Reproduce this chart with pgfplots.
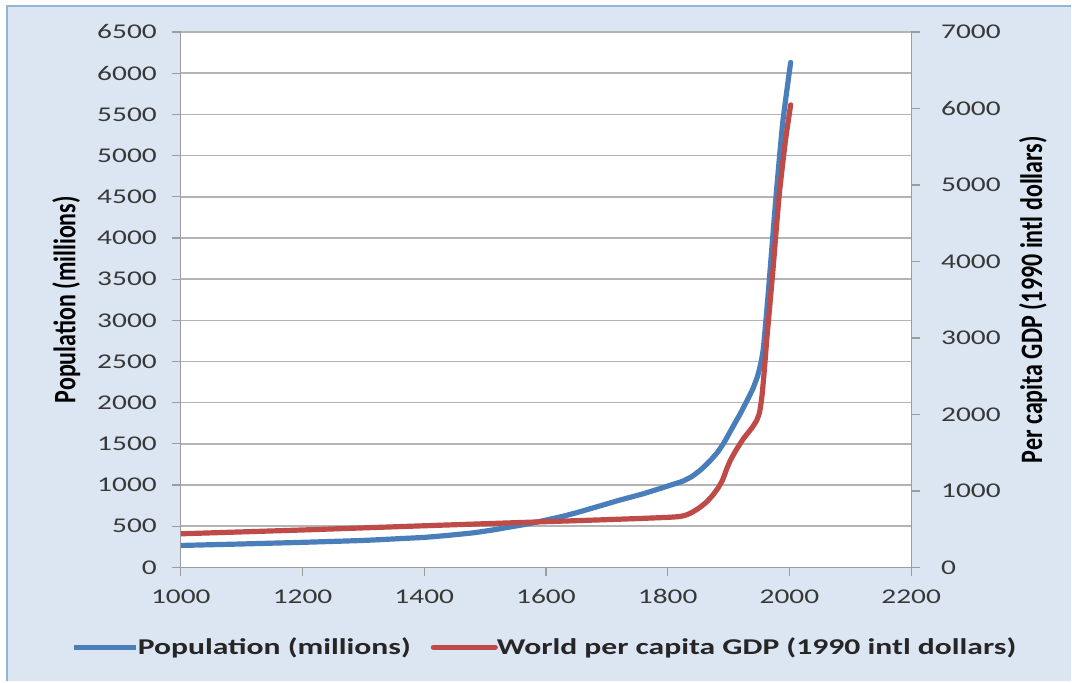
\documentclass[border=0pt]{standalone}
\usepackage{fontspec}
\setmainfont{Carlito}
\newfontfamily\wide{Carlito}[FakeStretch=1.4]
\usepackage{pgfplots}
\pgfplotsset{compat=1.18}
\definecolor{bgblue}{HTML}{DCE6F2}
\definecolor{edgeblue}{HTML}{95B3D7}
\definecolor{popblue}{HTML}{4A7EBB}
\definecolor{gdpred}{HTML}{BE4B48}
\definecolor{axisgray}{HTML}{9C9C9C}
\definecolor{gridgray}{HTML}{B4B4B4}

\pgfplotstableread{
year pop
1000 267
1100 285
1200 305
1300 328
1360 350
1400 365
1440 390
1480 420
1510 452
1540 490
1570 528
1600 575
1630 625
1655 675
1690 750
1720 815
1760 895
1786 955
1805 1000
1824 1045
1840 1105
1855 1190
1869 1290
1882 1400
1893 1520
1905 1680
1918 1850
1930 2020
1940 2170
1948 2330
1953 2480
1957 2650
1962 3050
1967 3493
1978 4507
1989 5400
2002 6130
}\popdata

\pgfplotstableread{
year gdp
1000 440
1200 490
1400 545
1590 596
1700 625
1760 642
1800 655
1819 665
1830 685
1840 720
1852 780
1863 850
1873 935
1882 1030
1890 1140
1897 1290
1903 1400
1912 1530
1925 1690
1938 1820
1946 1920
1951 2030
1955 2250
1959 2600
1963 3000
1972 3800
1983 4850
1993 5550
2002 6047
}\gdpdata

\pgfplotsset{
  common/.style={
    at={(90.5pt,57pt)}, anchor=south west,
    scale only axis, width=365.5pt, height=268pt,
    xmin=1000, xmax=2200,
    axis line style={axisgray, line width=0.6pt},
    tick style={axisgray, line width=0.6pt},
    tick align=outside, major tick length=4.5pt,
    ticklabel style={font=\wide\fontsize{10.5}{12}\selectfont, text=black!78},
    /pgf/number format/assume math mode=true,
    /pgf/number format/1000 sep={},
  },
}

\begin{document}
\begin{tikzpicture}
\fill[white] (0,0) rectangle (536pt,341pt);
\fill[bgblue] (3.5pt,0) rectangle (536pt,338pt);
\draw[edgeblue, line width=1pt] (3.5pt,0) -- (3.5pt,338pt) -- (536pt,338pt);

\begin{axis}[
  common,
  ymin=0, ymax=6500,
  xtick={1000,1200,...,2200},
  ytick={0,500,...,6500},
  axis background/.style={fill=white},
  axis x line*=bottom, axis y line*=left,
  xticklabel style={yshift=-3pt},
  yticklabel style={xshift=-4pt},
  ymajorgrids, major grid style={gridgray, line width=0.8pt},
  every axis y label/.style={at={(axis description cs:-0.157,0.5)}, rotate=90, anchor=center},
  ylabel={\bfseries\fontsize{12}{14}\selectfont\scalebox{1}[1.3]{Population (millions)}},
]
\addplot[popblue, line width=2.6pt, line cap=round, line join=round, smooth, tension=0.3] table[x=year, y=pop] {\popdata};
\end{axis}

\begin{axis}[
  common,
  ymin=0, ymax=7000,
  ytick={0,1000,...,7000},
  axis y line*=right, axis x line=none,
  yticklabel style={xshift=7pt},
  every axis y label/.style={at={(axis description cs:1.167,0.5)}, rotate=90, anchor=center},
  ylabel={\bfseries\fontsize{12}{14}\selectfont\scalebox{1}[1.3]{Per capita GDP (1990 intl dollars)}},
  legend columns=2,
  legend style={at={(0.5,-0.149)}, anchor=center, draw=none, fill=none,
    font=\wide\bfseries\fontsize{11.3}{13}\selectfont, text=black!85,
    /tikz/every odd column/.append style={column sep=-2.5pt},
    /tikz/every even column/.append style={column sep=8pt}},
  legend image code/.code={\draw[#1] (0pt,0pt) -- (31pt,0pt);},
]
\addlegendimage{popblue, line width=2.6pt}
\addlegendentry{Population (millions)}
\addplot[gdpred, line width=2.6pt, line cap=round, line join=round, smooth, tension=0.3] table[x=year, y=gdp] {\gdpdata};
\addlegendentry{World per capita GDP (1990 intl dollars)}
\end{axis}
\end{tikzpicture}
\end{document}
